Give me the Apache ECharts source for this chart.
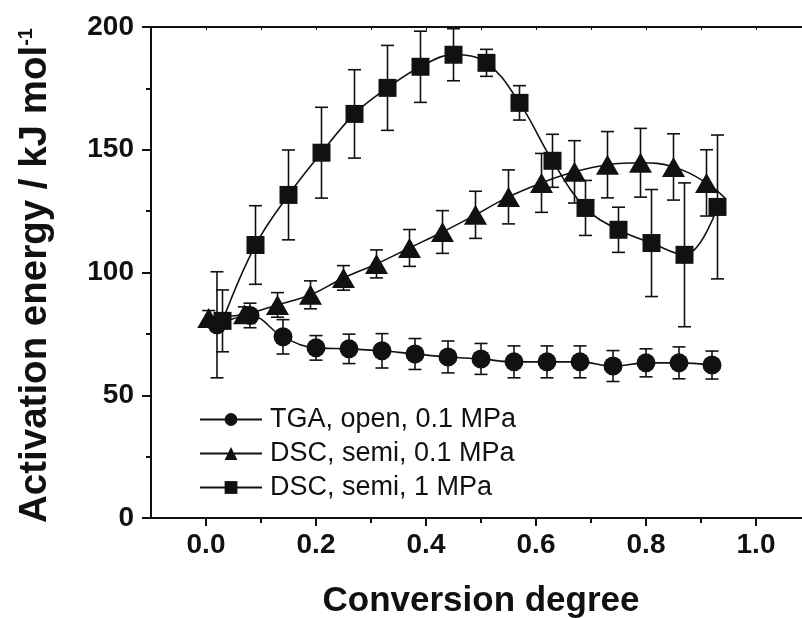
<!DOCTYPE html>
<html>
<head>
<meta charset="utf-8">
<script src="https://cdn.jsdelivr.net/npm/echarts@6/dist/echarts.min.js"></script>
<style>
html, body { margin: 0; padding: 0; background: #fff; }
#chart { width: 802px; height: 618px; }
</style>
</head>
<body>
<div id="chart"></div>
<script>
// TGA, open, 0.1 MPa
var tgaX = [0.02, 0.08, 0.14, 0.20, 0.26, 0.32, 0.38, 0.44, 0.50, 0.56, 0.62, 0.68, 0.74, 0.80, 0.86, 0.92];
var tgaY = [78.7, 82.5, 73.8, 69.3, 68.9, 68.1, 66.8, 65.6, 64.8, 63.6, 63.6, 63.6, 61.9, 63.2, 63.2, 62.3];
var tgaErr = [21.6, 5, 7, 5, 6, 7, 6.3, 6.5, 6.3, 6.5, 6.5, 6.5, 6.3, 5.7, 6.5, 5.7];

// DSC, semi, 0.1 MPa
var semiX = [0.005, 0.07, 0.13, 0.19, 0.25, 0.31, 0.37, 0.43, 0.49, 0.55, 0.61, 0.67, 0.73, 0.79, 0.85, 0.91];
var semiY = [81.5, 83, 86.8, 90.9, 97.8, 103.5, 110, 116.5, 123.5, 130.8, 136.5, 141, 143.9, 144.7, 143, 136.5];
var semiErr = [3, 3, 5, 5.7, 5, 5.7, 7.5, 8.7, 9.6, 11, 12, 12.7, 13.5, 14, 13.5, 13.5];
var semiTail = [0.945, 130]; // end of the fitted curve

// DSC, semi, 1 MPa
var mpaX = [0.03, 0.09, 0.15, 0.21, 0.27, 0.33, 0.39, 0.45, 0.51, 0.57, 0.63, 0.69, 0.75, 0.81, 0.87, 0.93];
var mpaY = [80.3, 111.2, 131.6, 148.8, 164.6, 175.2, 183.8, 188.7, 185.4, 169.1, 145.5, 126.3, 117.4, 112, 107.2, 126.7];
var mpaErr = [12.6, 16, 18.3, 18.5, 18, 17.3, 14.5, 10.6, 5.5, 7, 10.8, 11.2, 9.2, 21.8, 29.3, 29.3];

var xMajor = [0, 0.2, 0.4, 0.6, 0.8, 1.0];
var xMinor = [0.1, 0.3, 0.5, 0.7, 0.9];
var names = ['TGA, open, 0.1 MPa', 'DSC, semi, 0.1 MPa', 'DSC, semi, 1 MPa'];

var ink = '#111';
var font = 'Liberation Sans, Arial, sans-serif';

function pairs(xs, ys) {
    return xs.map(function (x, i) { return [x, ys[i]]; });
}
function triples(xs, ys, es) {
    return xs.map(function (x, i) { return [x, ys[i], es[i]]; });
}

// error bars with caps
function errorBars(api) {
    var x = api.value(0), y = api.value(1), e = api.value(2);
    var hi = api.coord([x, y + e]);
    var lo = api.coord([x, y - e]);
    var w = 6.5;
    var st = { stroke: ink, lineWidth: 1.6 };
    return {
        type: 'group',
        children: [
            { type: 'line', shape: { x1: hi[0], y1: hi[1], x2: lo[0], y2: lo[1] }, style: st },
            { type: 'line', shape: { x1: hi[0] - w, y1: hi[1], x2: hi[0] + w, y2: hi[1] }, style: st },
            { type: 'line', shape: { x1: lo[0] - w, y1: lo[1], x2: lo[0] + w, y2: lo[1] }, style: st }
        ]
    };
}

var semiLine = pairs(semiX, semiY);
semiLine.push({ value: semiTail, symbol: 'none' });

var chart = echarts.init(document.getElementById('chart'));
chart.setOption({
    animation: false,
    backgroundColor: '#fff',
    grid: { left: 151, top: 27, right: -9, bottom: 100, containLabel: false, outerBoundsMode: 'none' },
    legend: {
        orient: 'vertical',
        left: 194,
        top: 401,
        itemWidth: 62,
        itemHeight: 16,
        itemGap: 7,
        data: names,
        textStyle: { fontFamily: font, fontSize: 27, color: ink, padding: [0, 0, 0, 3] }
    },
    xAxis: [
        {
            type: 'value', min: -0.1, max: 1.1, position: 'bottom',
            name: 'Conversion degree', nameLocation: 'middle', nameGap: 66,
            nameTextStyle: { fontFamily: font, fontSize: 35, fontWeight: 'bold', color: ink },
            axisLine: { onZero: false, lineStyle: { color: ink, width: 2 } },
            axisTick: { customValues: xMajor, length: 8, lineStyle: { color: ink, width: 2 } },
            axisLabel: {
                customValues: xMajor, margin: 13,
                fontFamily: font, fontSize: 28, fontWeight: 'bold', color: ink,
                formatter: function (v) { return v.toFixed(1); }
            },
            splitLine: { show: false }
        },
        {
            type: 'value', min: -0.1, max: 1.1, position: 'bottom',
            axisLine: { show: false, onZero: false },
            axisTick: { customValues: xMinor, length: 5, lineStyle: { color: ink, width: 2 } },
            axisLabel: { show: false },
            splitLine: { show: false }
        },
        {
            type: 'value', min: -0.1, max: 1.1, position: 'top', interval: 0.1,
            axisLine: { onZero: false, lineStyle: { color: ink, width: 2 } },
            axisTick: { inside: true, length: 3, lineStyle: { color: ink, width: 1 } },
            axisLabel: { show: false },
            splitLine: { show: false }
        }
    ],
    yAxis: {
        type: 'value', min: 0, max: 200, interval: 50,
        name: 'Activation energy / kJ mol{sup|-1}', nameLocation: 'middle', nameGap: 96,
        nameTextStyle: {
            fontFamily: font, fontSize: 38.5, fontWeight: 'bold', color: ink, padding: [0, 6, 0, 0],
            rich: { sup: { fontFamily: font, fontSize: 20, fontWeight: 'bold', color: ink, verticalAlign: 'top' } }
        },
        axisLine: { show: true, onZero: false, lineStyle: { color: ink, width: 2 } },
        axisTick: { show: true, length: 9, lineStyle: { color: ink, width: 2 } },
        minorTick: { show: true, splitNumber: 2, length: 5, lineStyle: { color: ink, width: 2 } },
        axisLabel: { margin: 17, fontFamily: font, fontSize: 28, fontWeight: 'bold', color: ink },
        splitLine: { show: false }
    },
    series: [
        {
            type: 'custom', name: 'errTGA', z: 1, renderItem: function (p, api) { return errorBars(api); },
            data: triples(tgaX, tgaY, tgaErr), encode: { x: 0, y: 1 }
        },
        {
            type: 'custom', name: 'errSemi', z: 1, renderItem: function (p, api) { return errorBars(api); },
            data: triples(semiX, semiY, semiErr), encode: { x: 0, y: 1 }
        },
        {
            type: 'custom', name: 'errMpa', z: 1, renderItem: function (p, api) { return errorBars(api); },
            data: triples(mpaX, mpaY, mpaErr), encode: { x: 0, y: 1 }
        },
        {
            name: names[0], type: 'line', z: 3, smooth: 0.4,
            symbol: 'circle', symbolSize: 19,
            itemStyle: { color: ink },
            lineStyle: { color: ink, width: 1.6 },
            data: pairs(tgaX, tgaY)
        },
        {
            name: names[1], type: 'line', z: 3, smooth: 0.4,
            symbol: 'triangle', symbolSize: [23, 20],
            itemStyle: { color: ink },
            lineStyle: { color: ink, width: 1.6 },
            data: semiLine
        },
        {
            name: names[2], type: 'line', z: 3, smooth: 0.4,
            symbol: 'rect', symbolSize: 18,
            itemStyle: { color: ink },
            lineStyle: { color: ink, width: 1.6 },
            data: pairs(mpaX, mpaY)
        }
    ]
});
</script>
</body>
</html>
